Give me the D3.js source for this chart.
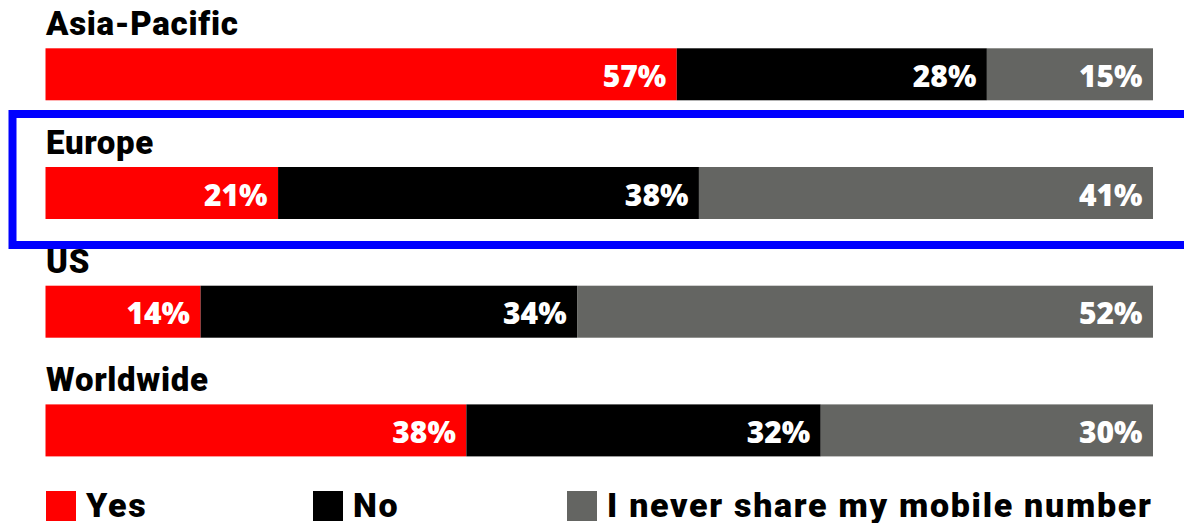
<!DOCTYPE html>
<html>
<head>
<meta charset="utf-8">
<script src="https://cdn.jsdelivr.net/npm/d3@7"></script>
<style>
  html, body { margin: 0; padding: 0; background: #fff; }
  svg { display: block; }
</style>
</head>
<body>
<svg id="chart" width="1184" height="523"></svg>
<script>
// Survey answers by region, in percent
const regions = ["Asia-Pacific", "Europe", "US", "Worldwide"];
const answers = ["Yes", "No", "I never share my mobile number"];
const yesValues = [57, 21, 14, 38];
const noValues = [28, 38, 34, 32];
const neverValues = [15, 41, 52, 30];
const highlighted = "Europe";

const colors = ["#ff0000", "#000000", "#646562"];

const rows = regions.map((r, i) => ({
  region: r,
  values: [yesValues[i], noValues[i], neverValues[i]]
}));

const svg = d3.select("#chart");

const x = d3.scaleLinear().domain([0, 100]).range([45.5, 1153]);
const step = 118.7;
const barH = 52;
const rowTop = r => 48.3 + regions.indexOf(r) * step;

const color = d3.scaleOrdinal().domain(answers).range(colors);

const stack = d3.stack().keys([0, 1, 2]).value((d, k) => d.values[k]);
const series = stack(rows);

// Region titles above each bar
svg.selectAll("text.region").data(rows).join("text")
  .attr("class", "region")
  .attr("x", 46)
  .attr("y", d => rowTop(d.region) - 13)
  .attr("font-family", "Roboto, sans-serif")
  .attr("font-weight", 900)
  .attr("font-size", 33)
  .attr("letter-spacing", 0.7)
  .attr("fill", "#000")
  .text(d => d.region);

const seg = svg.selectAll("g.series").data(series).join("g")
  .attr("class", "series")
  .attr("fill", (s, i) => color(answers[i]));

seg.selectAll("rect").data(s => s).join("rect")
  .attr("x", d => x(d[0]))
  .attr("width", d => x(d[1]) - x(d[0]))
  .attr("y", d => rowTop(d.data.region))
  .attr("height", barH);

seg.selectAll("text").data((s, i) => s.map(d => ({ d, k: i }))).join("text")
  .attr("x", o => x(o.d[1]) - 10.5)
  .attr("y", o => rowTop(o.d.data.region) + 38.5)
  .attr("text-anchor", "end")
  .attr("font-family", "'Open Sans', sans-serif")
  .attr("font-weight", 800)
  .attr("font-size", 30)
  .attr("fill", "#fff")
  .text(o => o.d.data.values[o.k] + "%");

// Highlight frame around one region
const hTop = rowTop(highlighted);
svg.append("rect")
  .attr("x", 12.5)
  .attr("y", hTop - 53)
  .attr("width", 1200)
  .attr("height", 131)
  .attr("fill", "none")
  .attr("stroke", "#0000ff")
  .attr("stroke-width", 8);

// Legend
const legendX = [46, 313, 567];
const legend = svg.selectAll("g.legend").data(answers).join("g")
  .attr("class", "legend")
  .attr("transform", (d, i) => `translate(${legendX[i]},491)`);

legend.append("rect")
  .attr("width", 30)
  .attr("height", 30)
  .attr("fill", d => color(d));

legend.append("text")
  .attr("x", 40)
  .attr("y", 26)
  .attr("font-family", "Roboto, sans-serif")
  .attr("font-weight", 900)
  .attr("font-size", 34)
  .attr("letter-spacing", 1.7)
  .attr("fill", "#000")
  .text(d => d);
</script>
</body>
</html>
